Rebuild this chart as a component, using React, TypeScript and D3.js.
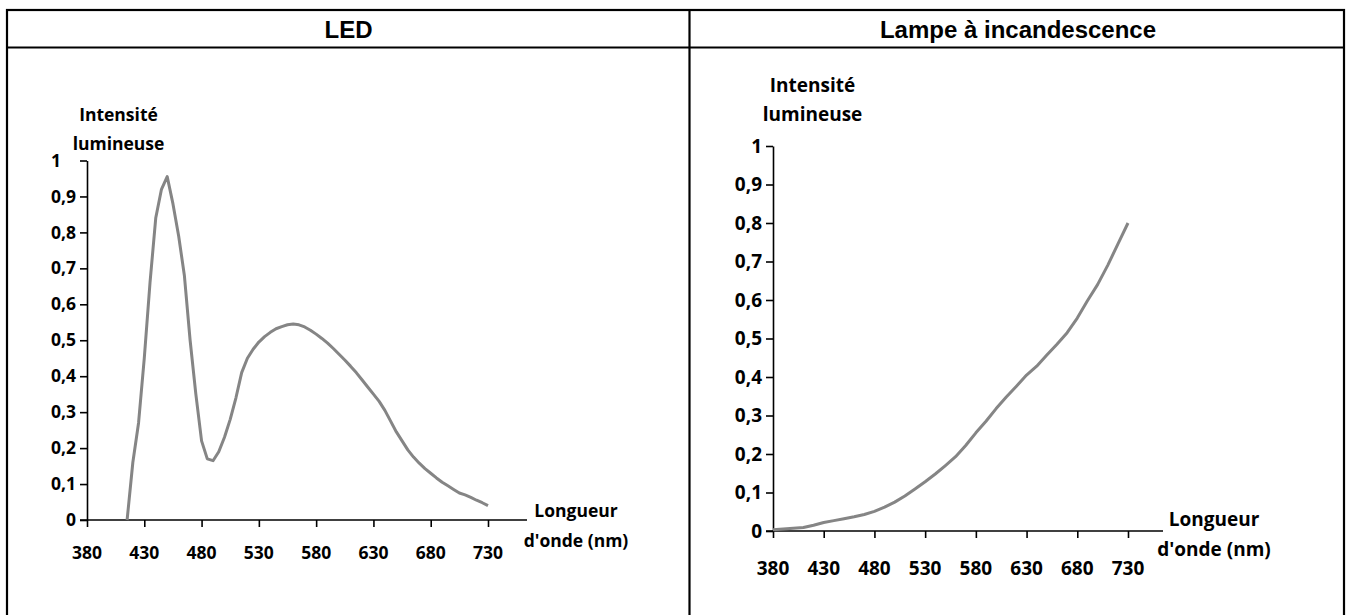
import * as d3 from "d3";
import { useEffect, useRef } from "react";

// LED spectrum (5 nm step, starting where the curve leaves 0)
const ledWavelengths = d3.range(415, 731, 5);
const ledIntensity = [
  0.0, 0.16, 0.27, 0.45, 0.66, 0.84, 0.92, 0.955, 0.88, 0.79, 0.68, 0.5, 0.35,
  0.22, 0.17, 0.165, 0.19, 0.23, 0.28, 0.34, 0.41, 0.45, 0.475, 0.495, 0.51,
  0.522, 0.532, 0.538, 0.543, 0.545, 0.543, 0.537, 0.528, 0.517, 0.505, 0.492,
  0.477, 0.461, 0.445, 0.428, 0.41, 0.39, 0.37, 0.35, 0.33, 0.305, 0.275, 0.245,
  0.22, 0.195, 0.175, 0.158, 0.143, 0.13, 0.117, 0.105, 0.095, 0.085, 0.075,
  0.07, 0.063, 0.055, 0.048, 0.04,
];

// Incandescent lamp spectrum (10 nm step)
const lampWavelengths = d3.range(380, 731, 10);
const lampIntensity = [
  0.003, 0.005, 0.007, 0.009, 0.015, 0.022, 0.027, 0.032, 0.037, 0.043, 0.051,
  0.062, 0.075, 0.091, 0.109, 0.128, 0.148, 0.17, 0.193, 0.222, 0.255, 0.285,
  0.318, 0.348, 0.376, 0.405, 0.428, 0.457, 0.485, 0.515, 0.553, 0.598, 0.64,
  0.69, 0.745, 0.8,
];

const xTicks = [380, 430, 480, 530, 580, 630, 680, 730];
const yTicks = [0, 0.1, 0.2, 0.3, 0.4, 0.5, 0.6, 0.7, 0.8, 0.9, 1];
const titles = ["LED", "Lampe à incandescence"];
const yLabel = ["Intensité", "lumineuse"];
const xLabel = ["Longueur", "d'onde (nm)"];

const WIDTH = 1351;
const HEIGHT = 615;
const FONT = "'Open Sans', sans-serif";

interface PanelLayout {
  x0: number; // pixel of 380 nm
  x1: number; // pixel of 730 nm
  axisEnd: number;
  y0: number; // pixel of 0
  y1: number; // pixel of 1
  fontSize: number;
  yLabelX: number;
  yLabelY: number;
  xLabelX: number;
  xLabelY: number;
  tickLabelY: number;
  topTickShift: number; // the "1" label is pushed left when the axis title sits on it
}

const panels: PanelLayout[] = [
  {
    x0: 87,
    x1: 488,
    axisEnd: 527,
    y0: 520,
    y1: 160.5,
    fontSize: 17.5,
    yLabelX: 118.5,
    yLabelY: 120.5,
    xLabelX: 576,
    xLabelY: 517,
    tickLabelY: 559,
    topTickShift: -15,
  },
  {
    x0: 773,
    x1: 1128,
    axisEnd: 1163,
    y0: 531,
    y1: 146,
    fontSize: 19,
    yLabelX: 812.5,
    yLabelY: 91.5,
    xLabelX: 1214,
    xLabelY: 526,
    tickLabelY: 575,
    topTickShift: 0,
  },
];

export default function App() {
  const svgRef = useRef<SVGSVGElement>(null);

  useEffect(() => {
    if (!svgRef.current) return;
    const svg = d3.select(svgRef.current);
    svg.selectAll("*").remove();

    svg.append("rect").attr("width", WIDTH).attr("height", HEIGHT).attr("fill", "#fff");

    // Table frame
    const table = svg.append("g").attr("stroke", "#000").attr("stroke-width", 2.2).attr("fill", "none");
    table.append("rect").attr("x", 7).attr("y", 10).attr("width", 1337).attr("height", 640);
    table.append("line").attr("x1", 7).attr("x2", 1344).attr("y1", 47.5).attr("y2", 47.5);
    table.append("line").attr("x1", 689.5).attr("x2", 689.5).attr("y1", 10).attr("y2", 650);

    // Header titles
    svg
      .selectAll(".title")
      .data(titles)
      .enter()
      .append("text")
      .attr("x", (_, i) => (i === 0 ? 348.5 : 1018))
      .attr("y", 38)
      .attr("text-anchor", "middle")
      .style("font-family", "'Liberation Sans', Arial, sans-serif")
      .style("font-weight", "bold")
      .style("font-size", "24px")
      .style("fill", "#000")
      .text((d) => d);

    const series = [
      { xs: ledWavelengths, ys: ledIntensity },
      { xs: lampWavelengths, ys: lampIntensity },
    ];

    panels.forEach((p, i) => {
      const g = svg.append("g");
      const xScale = d3.scaleLinear().domain([380, 730]).range([p.x0, p.x1]);
      const yScale = d3.scaleLinear().domain([0, 1]).range([p.y0, p.y1]);
      const fs = `${p.fontSize}px`;

      // Y axis
      const yAxis = d3
        .axisLeft(yScale)
        .tickValues(yTicks)
        .tickSize(7)
        .tickSizeOuter(0)
        .tickPadding(4)
        .tickFormat((d) => d3.format("~g")(d as number).replace(".", ","));
      const ya = g.append("g").attr("transform", `translate(${p.x0},0)`).call(yAxis);
      ya.select(".domain").attr("stroke", "#000").attr("stroke-width", 1.6);
      ya.selectAll(".tick line").attr("stroke", "#000").attr("stroke-width", 1.6);
      ya.selectAll<SVGTextElement, number>("text")
        .attr("dx", (d) => (d === 1 ? p.topTickShift : 0))
        .style("font-family", FONT)
        .style("font-weight", "bold")
        .style("font-size", fs)
        .style("fill", "#000");

      // X axis
      const xAxis = d3
        .axisBottom(xScale)
        .tickValues(xTicks)
        .tickSize(7)
        .tickSizeOuter(0)
        .tickFormat(() => "");
      const xa = g.append("g").attr("transform", `translate(0,${p.y0})`).call(xAxis);
      xa.select(".domain").remove();
      xa.selectAll(".tick line").attr("stroke", "#000").attr("stroke-width", 1.6);
      g.append("line")
        .attr("x1", p.x0 - 7)
        .attr("x2", p.axisEnd)
        .attr("y1", p.y0)
        .attr("y2", p.y0)
        .attr("stroke", "#000")
        .attr("stroke-width", 1.6);

      g.selectAll(".xlab")
        .data(xTicks)
        .enter()
        .append("text")
        .attr("x", (d) => xScale(d))
        .attr("y", p.tickLabelY)
        .attr("text-anchor", "middle")
        .style("font-family", FONT)
        .style("font-weight", "bold")
        .style("font-size", fs)
        .style("fill", "#000")
        .text((d) => d);

      // Axis titles
      yLabel.forEach((t, k) => {
        g.append("text")
          .attr("x", p.yLabelX)
          .attr("y", p.yLabelY + k * 29.5)
          .attr("text-anchor", "middle")
          .style("font-family", FONT)
          .style("font-weight", "bold")
          .style("font-size", fs)
          .style("fill", "#000")
          .text(t);
      });
      xLabel.forEach((t, k) => {
        g.append("text")
          .attr("x", p.xLabelX)
          .attr("y", p.xLabelY + k * 29.5)
          .attr("text-anchor", "middle")
          .style("font-family", FONT)
          .style("font-weight", "bold")
          .style("font-size", fs)
          .style("fill", "#000")
          .text(t);
      });

      // Curve
      const s = series[i];
      const line = d3
        .line<number>()
        .x((_, j) => xScale(s.xs[j]))
        .y((d) => yScale(d));
      g.append("path")
        .datum(s.ys)
        .attr("d", line)
        .attr("fill", "none")
        .attr("stroke", "#858585")
        .attr("stroke-width", 3)
        .attr("stroke-linejoin", "round");
    });
  }, []);

  return (
    <svg
      ref={svgRef}
      width={WIDTH}
      height={HEIGHT}
      style={{ position: "absolute", left: 0, top: 0, display: "block" }}
    />
  );
}
